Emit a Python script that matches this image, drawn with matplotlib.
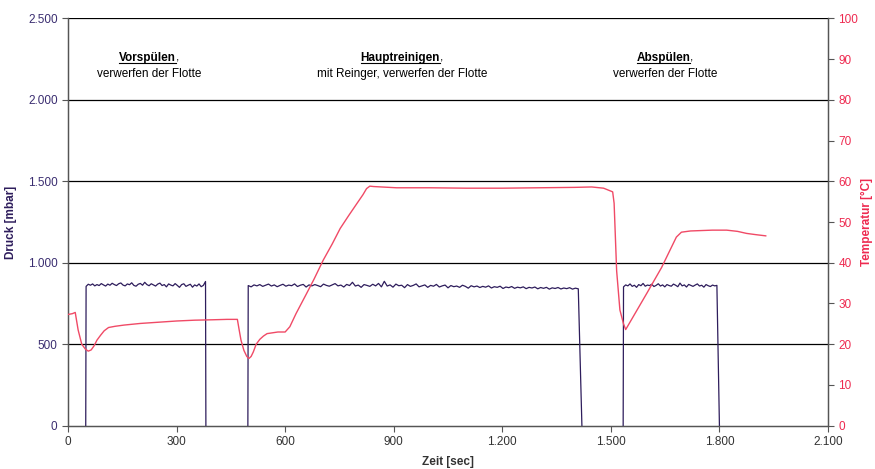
import numpy as np
import matplotlib
matplotlib.use("Agg")
import matplotlib.pyplot as plt
from matplotlib.ticker import FuncFormatter, MultipleLocator
from matplotlib.lines import Line2D

plt.rcParams['font.family'] = ['Liberation Sans', 'DejaVu Sans']

# pressure segments: (start time, step, values in mbar)
p1_start, p1_step = 50, 6
p1_vals = [855, 868, 862, 870, 858, 866, 860, 872, 864, 857, 869, 862, 874, 866,
           860, 871, 876, 863, 858, 870, 865, 877, 861, 856, 868, 873, 862, 880,
           866, 859, 871, 864, 857, 869, 875, 860, 866, 852, 870, 863, 858, 872,
           861, 849, 866, 871, 855, 862, 868, 850, 864, 857, 870, 853, 861, 885]
p1_end = 381

p2_start, p2_step = 498, 8
p2_vals = [860, 852, 864, 858, 866, 855, 862, 869, 857, 864, 853, 861, 868, 856,
           863, 859, 870, 854, 862, 867, 851, 864, 858, 866, 860, 853, 869, 861,
           856, 864, 872, 858, 863, 851, 867, 860, 880, 857, 863, 849, 866, 861,
           855, 868, 858, 873, 852, 886, 857, 864, 850, 869, 859, 862, 847, 866,
           855, 861, 870, 852, 858, 864, 849, 861, 856, 867, 851, 858, 863, 846,
           860, 853, 857, 849, 862, 855, 844, 859, 852, 857, 848, 855, 850, 858,
           845, 853, 849, 856, 842, 851, 847, 854, 843, 850, 846, 852, 841, 849,
           845, 851, 840, 848, 843, 849, 838, 846, 842, 848, 839, 845, 841, 847,
           838, 844, 840]
p2_end = 1420

p3_start, p3_step = 1535, 6
p3_vals = [852, 864, 858, 870, 855, 862, 849, 866, 859, 873, 856, 863, 860, 868,
           854, 861, 871, 857, 864, 852, 866, 860, 856, 869, 862, 853, 875, 858,
           864, 851, 867, 861, 855, 863, 870, 857, 862, 850, 866, 859, 854, 863,
           858, 861]
p3_end = 1800

# temperature (sec, deg C)
temp_t = [0, 12, 20, 28, 38, 48, 56, 64, 72, 80, 90, 100, 112, 130, 155, 200,
          250, 300, 350, 400, 440, 468, 473, 478, 486, 494, 500, 506, 512, 520,
          530, 540, 550, 565, 580, 600, 613, 630, 659, 680, 705, 730, 752, 775,
          798, 815, 825, 834, 845, 908, 1000, 1100, 1200, 1300, 1400, 1447, 1480,
          1505, 1509, 1516, 1525, 1535, 1541, 1560, 1600, 1640, 1681, 1695, 1720,
          1780, 1820, 1850, 1875, 1900, 1928]
temp_v = [27.3, 27.5, 27.8, 23.5, 20.0, 18.8, 18.3, 18.6, 19.6, 21.0, 22.2, 23.3,
          24.1, 24.4, 24.7, 25.1, 25.4, 25.7, 25.9, 26.0, 26.1, 26.1, 23.5, 21.0,
          18.5, 17.0, 16.5, 17.0, 18.1, 20.0, 21.2, 22.0, 22.6, 22.8, 23.0, 23.0,
          24.3, 27.5, 32.4, 36.0, 40.6, 44.6, 48.4, 51.5, 54.5, 56.7, 58.2, 58.8,
          58.7, 58.4, 58.4, 58.3, 58.3, 58.4, 58.5, 58.6, 58.3, 57.4, 54.6, 38.0,
          28.4, 25.0, 23.6, 26.5, 32.6, 38.8, 46.3, 47.5, 47.8, 48.0, 48.0, 47.7,
          47.2, 46.9, 46.6]

phases = [("Vorspülen", "verwerfen der Flotte", 224),
          ("Hauptreinigen", "mit Reinger, verwerfen der Flotte", 923),
          ("Abspülen", "verwerfen der Flotte", 1650)]

PURPLE = '#2e1d5c'
RED = '#ee2a50'
LINE_RED = '#f04a66'


def de_fmt(v, pos):
    return f"{int(round(v)):,}".replace(",", ".")


def build_pressure():
    t = []
    p = []
    for start, step, vals, end in [(p1_start, p1_step, p1_vals, p1_end),
                                   (p2_start, p2_step, p2_vals, p2_end),
                                   (p3_start, p3_step, p3_vals, p3_end)]:
        times = start + step * np.arange(len(vals))
        t += [start - 1, start - 0.5]
        p += [0, 350]
        t += list(times)
        p += list(vals)
        t += [end, np.nan]
        p += [0, np.nan]
    return t, p


fig = plt.figure(figsize=(8.75, 4.69), dpi=100)
ax = fig.add_axes([68 / 875, 43.3 / 469, 760 / 875, 407.4 / 469])
ax2 = ax.twinx()

for y in range(500, 2501, 500):
    ax.axhline(y, color='black', lw=0.9, zorder=1)

pt, pv = build_pressure()
ax.plot(pt, pv, color=PURPLE, lw=0.9, zorder=3)
ax2.plot(temp_t, temp_v, color=LINE_RED, lw=1.0, zorder=3)

ax.set_xlim(0, 2100)
ax.set_ylim(0, 2500)
ax2.set_ylim(0, 100)
ax.xaxis.set_major_locator(MultipleLocator(300))
ax.yaxis.set_major_locator(MultipleLocator(500))
ax2.yaxis.set_major_locator(MultipleLocator(10))
ax.xaxis.set_major_formatter(FuncFormatter(de_fmt))
ax.yaxis.set_major_formatter(FuncFormatter(de_fmt))

for a in (ax, ax2):
    a.spines['top'].set_visible(False)
    for s in ('left', 'right', 'bottom'):
        a.spines[s].set_color('#555555')
        a.spines[s].set_linewidth(0.9)
ax.tick_params(axis='x', direction='out', length=4, colors='#555555',
               labelcolor='#333333', labelsize=8.5)
ax.tick_params(axis='y', direction='out', length=4, colors='#555555',
               labelcolor='#3a2d70', labelsize=8.5)
ax2.tick_params(axis='y', direction='out', length=4, colors='#555555',
                labelcolor=RED, labelsize=8.5)

ax.set_xlabel("Zeit [sec]", fontsize=8.5, fontweight='bold', color='#333333',
              labelpad=6)
ax.set_ylabel("Druck [mbar]", fontsize=8.5, fontweight='bold', color=PURPLE,
              labelpad=8)
ax2.set_ylabel("Temperatur [°C]", fontsize=8.5, fontweight='bold', color=RED,
               labelpad=2)

heads = []
for name, desc, x in phases:
    h = ax.text(x, 2259, name + ",", ha='center', va='center', fontsize=8.5,
                color='black', fontweight='bold')
    ax.text(x, 2161, desc, ha='center', va='center', fontsize=8.5, color='black')
    heads.append((h, name))

# replace heading with bold word + plain comma and underline
fig.canvas.draw()
r = fig.canvas.get_renderer()
for h, name in heads:
    bb = h.get_window_extent(r)
    h.set_visible(False)
    xd, yd = bb.x0, (bb.y0 + bb.y1) / 2
    inv = fig.transFigure.inverted()
    fx, fy = inv.transform((xd, yd))
    w = fig.text(fx, fy, name, ha='left', va='center', fontsize=8.5,
                 fontweight='bold', color='black')
    fig.canvas.draw()
    wb = w.get_window_extent(r)
    cx, _ = inv.transform((wb.x1, yd))
    fig.text(cx, fy, ",", ha='left', va='center', fontsize=8.5, color='black')
    lx0, ly = inv.transform((wb.x0, wb.y0 + 0.5))
    lx1, _ = inv.transform((wb.x1, wb.y0 + 0.5))
    fig.add_artist(Line2D([lx0, lx1], [ly, ly], color='black', lw=0.8,
                          transform=fig.transFigure))

fig.savefig("out.png", dpi=100, facecolor='white')
